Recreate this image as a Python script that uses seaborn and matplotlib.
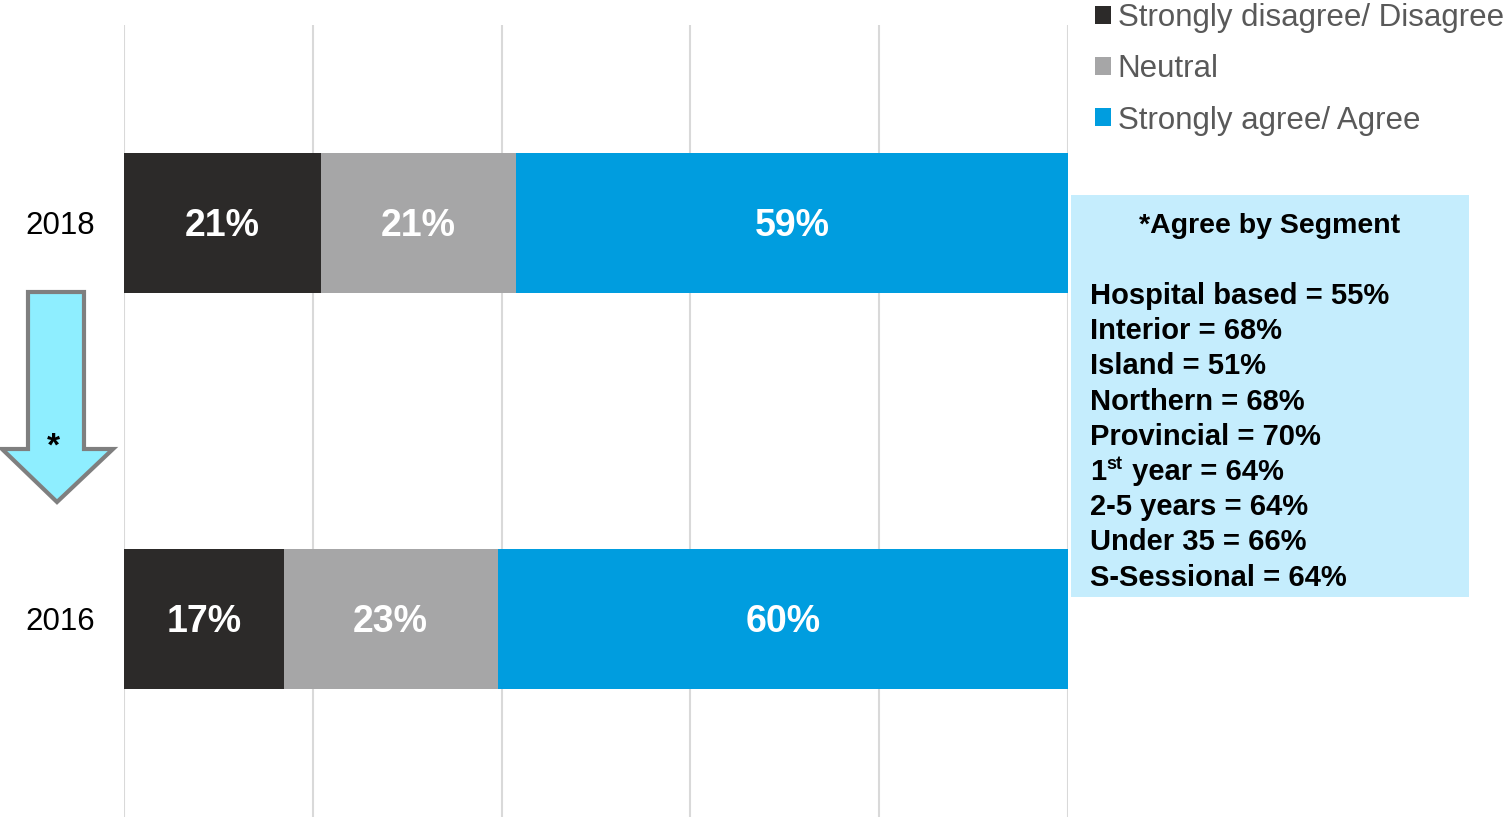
import numpy as np
import pandas as pd
import matplotlib
matplotlib.use("Agg")
import matplotlib.pyplot as plt
from matplotlib.patches import Patch, Polygon, Rectangle
import seaborn as sns

# values
years = ["2018", "2016"]
disagree = [20.9, 16.9]
neutral = [20.6, 22.7]
agree = [58.5, 60.4]
labels_disagree = ["21%", "17%"]
labels_neutral = ["21%", "23%"]
labels_agree = ["59%", "60%"]

series_names = ["Strongly disagree/ Disagree", "Neutral", "Strongly agree/ Agree"]
colors = ["#2c2a29", "#a6a6a7", "#009ddf"]

box_title = "*Agree by Segment"
segments = ["Hospital based = 55%", "Interior = 68%", "Island = 51%",
            "Northern = 68%", "Provincial = 70%", "1st year = 64%",
            "2-5 years = 64%", "Under 35 = 66%", "S-Sessional = 64%"]

sns.set_theme(style="white")
plt.rcParams["font.family"] = ["Liberation Sans", "DejaVu Sans"]
plt.rcParams["text.color"] = "black"

df = pd.DataFrame({"year": years, "disagree": disagree,
                   "neutral": neutral, "agree": agree})
df["c1"] = df["disagree"]
df["c2"] = df["c1"] + df["neutral"]
df["c3"] = df["c2"] + df["agree"]

W, H = 1511, 821
fig = plt.figure(figsize=(W / 100, H / 100), dpi=100)
ax = fig.add_axes([124 / W, 1 - 817 / H, (1068 - 124) / W, (817 - 25) / H])

# stacked bars: draw the totals first, overlay the shorter ones
for col, c in zip(["c3", "c2", "c1"], colors[::-1]):
    sns.barplot(data=df, x=col, y="year", orient="h", color=c,
                width=0.353, ax=ax, saturation=1, linewidth=0)

for i in range(len(years)):
    for cum, val, lab in [(df["c1"][i], disagree[i], labels_disagree[i]),
                          (df["c2"][i], neutral[i], labels_neutral[i]),
                          (df["c3"][i], agree[i], labels_agree[i])]:
        ax.text(cum - val / 2, i - 0.003, lab, ha="center", va="center_baseline",
                color="white", fontsize=27, fontweight="bold")

ax.set_xlim(0, 100)
ax.set_ylim(1.5, -0.5)
ax.set_xticks(np.arange(0, 101, 20))
ax.xaxis.grid(True, color="#d9d9d9", linewidth=1.5)
ax.set_axisbelow(True)
ax.set_xticklabels([])
ax.set_xlabel("")
ax.set_ylabel("")
ax.tick_params(axis="y", length=0, pad=21, labelsize=22.5, labelcolor="black")
ax.tick_params(axis="x", length=0)
for s in ax.spines.values():
    s.set_visible(False)

# legend
handles = [Patch(facecolor=c, edgecolor="none") for c in colors]
fig.legend(handles, series_names, loc="upper left",
           bbox_to_anchor=(1095 / W, 1 - 3 / H), frameon=False,
           fontsize=22.5, labelcolor="#595959", handlelength=0.5,
           handleheight=0.5, handletextpad=0.22, labelspacing=0.68,
           borderaxespad=0, borderpad=0)

# segment box
def px(x, y):
    return x / W, 1 - y / H

fig.patches.append(Rectangle(px(1071, 597), (1469 - 1071) / W, (597 - 195) / H,
                             transform=fig.transFigure, facecolor="#c5edfd",
                             edgecolor="none", zorder=0))
fig.text(*px(1270, 223), box_title, ha="center", va="center_baseline",
         fontsize=20.5, fontweight="bold", color="black")
for k, line in enumerate(segments):
    y = 293 + k * 35.2
    if line.startswith("1st"):
        fig.text(*px(1090, y), "1", ha="left", va="center_baseline",
                 fontsize=21, fontweight="bold")
        fig.text(*px(1106, y - 7), "st", ha="left", va="center_baseline",
                 fontsize=13, fontweight="bold")
        fig.text(*px(1124, y), line[3:], ha="left", va="center_baseline",
                 fontsize=21, fontweight="bold")
    else:
        fig.text(*px(1090, y), line, ha="left", va="center_baseline",
                 fontsize=21, fontweight="bold")

# down arrow
arrow_pts = [(28, 292), (84, 292), (84, 449), (113, 449), (57, 502),
             (2, 449), (28, 449)]
fig.patches.append(Polygon([px(x, y) for x, y in arrow_pts], closed=True,
                           transform=fig.transFigure, facecolor="#8eeeff",
                           edgecolor="#7f7f7f", linewidth=3, zorder=1))
fig.text(*px(53, 447), "*", ha="center", va="center", fontsize=24,
         fontweight="bold", color="black")

fig.savefig("out.png", dpi=100)
